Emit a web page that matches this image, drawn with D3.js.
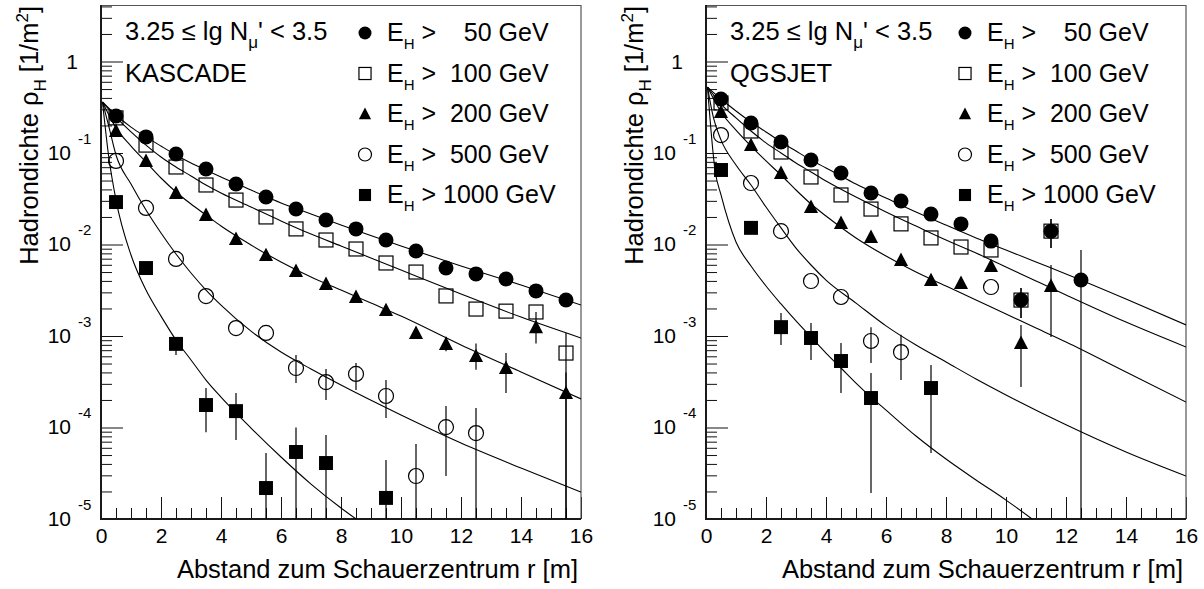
<!DOCTYPE html>
<html><head><meta charset="utf-8">
<script src="https://cdn.jsdelivr.net/npm/d3@7"></script>
<style>
body{margin:0;background:#fff;}
svg{display:block;font-family:"Liberation Sans",Arial,Helvetica,sans-serif;}
</style></head><body>
<svg id="chart" width="1204" height="589"></svg>
<script>
// ---------------- data ----------------
const rBins16 = [0.5,1.5,2.5,3.5,4.5,5.5,6.5,7.5,8.5,9.5,10.5,11.5,12.5,13.5,14.5,15.5];
const energyLabels = ["50","100","200","500","1000"];
const xTickValues = [0,2,4,6,8,10,12,14,16];
const yDecadeExp = [-5,-4,-3,-2,-1,0];
const modelNames = ["KASCADE","QGSJET"];
const headerText = "3.25 \u2264 lg N";

// KASCADE data points
const kasR50 = rBins16;
const kasE50 = [0.254,0.150,0.0975,0.0668,0.0458,0.0330,0.0244,0.0185,0.0148,0.0112,0.00849,0.00553,0.00477,0.00420,0.00311,0.00247];
const kasErr50 = [null,null,null,null,null,null,null,null,null,null,null,null,null,null,[0.0027,0.0036],[0.0021,0.0029]];
const kasR100 = rBins16;
const kasE100 = [0.242,0.122,0.0703,0.0447,0.0306,0.0200,0.0148,0.0112,0.00893,0.00628,0.00500,0.00274,0.00197,0.00187,0.00183,0.000651];
const kasErr100 = [null,null,null,null,null,null,null,null,null,null,null,null,null,null,null,[1e-6,0.00108]];
const kasR200 = rBins16;
const kasE200 = [0.174,0.0819,0.0366,0.0210,0.0115,0.00767,0.00513,0.00370,0.00267,0.00192,0.00108,0.00082,0.000604,0.000447,0.00125,0.000238];
const kasErr200 = [null,null,null,null,null,null,null,null,null,null,null,[0.00068,0.00098],[0.000428,0.00083],[0.000238,0.00065],[0.00083,0.00183],[1e-6,0.0004]];
const kasR500 = [0.5,1.5,2.5,3.5,4.5,5.5,6.5,7.5,8.5,9.5,10.5,11.5,12.5];
const kasE500 = [0.0819,0.0251,0.00695,0.00273,0.00122,0.00108,0.000447,0.000314,0.000385,0.000221,2.95e-5,1.01e-4,8.7e-5];
const kasErr500 = [null,null,null,null,null,null,[0.000306,0.00062],[0.0002,0.000435],[0.000257,0.000507],[0.000127,0.00033],[1e-6,6.6e-5],[2.95e-5,0.000172],[1e-6,0.000163]];
const kasR1000 = [0.5,1.5,2.5,3.5,4.5,5.5,6.5,7.5,9.5];
const kasE1000 = [0.0291,0.00553,0.00082,0.000176,0.000151,2.18e-5,5.4e-5,4.09e-5,1.70e-5];
const kasErr1000 = [null,null,[0.00062,0.00095],[8.9e-5,0.00027],[7.3e-5,0.000238],[1e-6,5.26e-5],[1e-6,1.0e-4],[1e-6,8.3e-5],[1e-6,4.4e-5]];

// KASCADE fit curves
const kasFitR50 = [0.05,0.5,1,1.5,2,2.5,3,3.5,4,5,6,7,8,10,12,14,16];
const kasFit50 = [0.361,0.260,0.192,0.150,0.119,0.0951,0.0777,0.0652,0.0547,0.0394,0.0284,0.0215,0.0163,0.00963,0.00582,0.00361,0.00218];
const kasFitR100 = [0.05,0.5,1,1.5,2,2.5,3,3.5,4,5,6,7,8,10,12,14,16];
const kasFit100 = [0.361,0.247,0.170,0.122,0.0904,0.0703,0.0561,0.0447,0.0365,0.0257,0.0181,0.0130,0.00963,0.00526,0.00288,0.00161,0.000951];
const kasFitR200 = [0.05,0.5,1,1.5,2,2.5,3,3.5,4,5,6,7,8,9,10,12,14,16];
const kasFit200 = [0.361,0.188,0.119,0.0797,0.0533,0.0375,0.0277,0.0210,0.0159,0.00988,0.00644,0.00441,0.00318,0.00229,0.00165,0.000797,0.000404,0.000205];
const kasFitR500 = [0.05,0.25,0.5,1,1.5,2,2.5,3,3.5,4,5,6,7,8,10,12,14,16];
const kasFit500 = [0.361,0.202,0.0951,0.0458,0.0238,0.01335,0.00787,0.00488,0.00318,0.00218,0.00113,0.000668,0.000436,0.000291,0.000137,6.77e-5,3.61e-5,1.97e-5];
const kasFitR1000 = [0.05,0.25,0.5,1,1.5,2,2.5,3,3.5,4,5,6,7,8,8.6];
const kasFit1000 = [0.361,0.0951,0.0306,0.00768,0.00318,0.00165,0.000904,0.000547,0.00033,0.000215,9.87e-5,4.76e-5,2.41e-5,1.32e-5,9.5e-6];

// QGSJET data points
const qgsR50 = [0.5,1.5,2.5,3.5,4.5,5.5,6.5,7.5,8.5,9.5,10.5,11.5,12.5];
const qgsE50 = [0.389,0.213,0.132,0.0839,0.0605,0.0365,0.0299,0.0215,0.0168,0.0109,0.00247,0.0140,0.00409];
const qgsErr50 = [null,null,null,null,null,null,null,null,null,null,[0.00157,0.00335],[0.00915,0.0190],[1e-6,0.00871]];
const qgsR100 = [0.5,1.5,2.5,3.5,4.5,5.5,6.5,7.5,8.5,9.5,10.5,11.5];
const qgsE100 = [0.352,0.174,0.1025,0.0547,0.0348,0.0244,0.0168,0.0118,0.00939,0.00871,0.00247,0.0140];
const qgsErr100 = [null,null,null,null,null,null,null,null,null,null,[0.00157,0.00335],[0.00915,0.0190]];
const qgsR200 = [0.5,1.5,2.5,3.5,4.5,5.5,6.5,7.5,8.5,9.5,10.5,11.5];
const qgsE200 = [0.281,0.122,0.0605,0.0257,0.0172,0.0121,0.00677,0.00409,0.00380,0.00582,0.000838,0.00352];
const qgsErr200 = [null,null,null,null,null,null,null,null,null,null,[0.000277,0.00132],[0.000975,0.00597]];
const qgsR500 = [0.5,1.5,2.5,3.5,4.5,5.5,6.5,9.5];
const qgsE500 = [0.157,0.0470,0.0140,0.00399,0.00267,0.000882,0.000668,0.00343];
const qgsErr500 = [null,null,null,null,null,[0.000507,0.00125],[0.00033,0.00103],null];
const qgsR1000 = [0.5,1.5,2.5,3.5,4.5,5.5,7.5];
const qgsE1000 = [0.0652,0.0152,0.00125,0.000951,0.000533,0.00021,0.00027];
const qgsErr1000 = [null,null,[0.000797,0.00178],[0.000547,0.00139],[0.000238,0.000838],[1.92e-5,0.000394],[5.26e-5,0.000482]];

// QGSJET fit curves
const qgsFitR50 = [0.05,0.5,1,1.5,2,2.5,3,3.5,4,4.5,5,6,7,8,9,10,11,12,14,16];
const qgsFit50 = [0.526,0.389,0.288,0.218,0.170,0.132,0.105,0.0839,0.0686,0.0561,0.0458,0.0322,0.0227,0.0163,0.0118,0.00871,0.00644,0.00477,0.00254,0.00132];
const qgsFitR100 = [0.05,0.5,1,1.5,2,2.5,3,3.5,4,5,6,7,8,9,10,11,12,14,16];
const qgsFit100 = [0.526,0.343,0.242,0.174,0.129,0.100,0.0777,0.0620,0.0494,0.0330,0.0227,0.0159,0.0112,0.00807,0.00568,0.00399,0.00281,0.00142,0.000758];
const qgsFitR200 = [0.05,0.5,1,1.5,2,2.5,3,3.5,4,5,6,7,8,9,10,11,12,14,16];
const qgsFit200 = [0.526,0.281,0.178,0.119,0.0819,0.0575,0.0394,0.0277,0.0205,0.0118,0.00748,0.00500,0.00352,0.00247,0.00174,0.00122,0.00086,0.000404,0.00019];
const qgsFitR500 = [0.05,0.25,0.5,1,1.5,2,2.5,3,3.5,4,5,6,7,8,9,10,12,14,16];
const qgsFit500 = [0.526,0.242,0.139,0.0739,0.0447,0.0257,0.0152,0.00915,0.00597,0.00409,0.00229,0.00129,0.000797,0.00052,0.000339,0.000227,0.000107,5.4e-5,2.95e-5];
const qgsFitR1000 = [0.05,0.3,0.5,1,1.5,2,2.5,3,3.5,4,4.5,5,5.5,6,7,8,9,10,11];
const qgsFit1000 = [0.526,0.0652,0.0348,0.01065,0.00582,0.00352,0.00224,0.00146,0.000975,0.000651,0.000447,0.000306,0.000215,0.000155,8.07e-5,4.52e-5,2.67e-5,1.61e-5,9.3e-6];

// ---------------- layout ----------------
const markerTypes = ["circle","osquare","triangle","ocircle","square"];
const panels = [
  {x0:101, name:modelNames[0],
   series:[[kasR50,kasE50,kasErr50],[kasR100,kasE100,kasErr100],[kasR200,kasE200,kasErr200],[kasR500,kasE500,kasErr500],[kasR1000,kasE1000,kasErr1000]],
   fits:[[kasFitR50,kasFit50],[kasFitR100,kasFit100],[kasFitR200,kasFit200],[kasFitR500,kasFit500],[kasFitR1000,kasFit1000]],
   legMarkerDx:264, legTextDx:286},
  {x0:706, name:modelNames[1],
   series:[[qgsR50,qgsE50,qgsErr50],[qgsR100,qgsE100,qgsErr100],[qgsR200,qgsE200,qgsErr200],[qgsR500,qgsE500,qgsErr500],[qgsR1000,qgsE1000,qgsErr1000]],
   fits:[[qgsFitR50,qgsFit50],[qgsFitR100,qgsFit100],[qgsFitR200,qgsFit200],[qgsFitR500,qgsFit500],[qgsFitR1000,qgsFit1000]],
   legMarkerDx:259, legTextDx:281}
];
const PW = 480, TOP = 5, BOT = 519;
const yTopValue = 4.145;
const FONT = "'Liberation Sans',Arial,Helvetica,sans-serif";

const svg = d3.select("#chart");
svg.append("rect").attr("width",1204).attr("height",589).attr("fill","#fff");
const defs = svg.append("defs");

function drawMarker(g, type, s){
  if(type==="circle"||type==="ocircle"){
    g.append("circle").attr("r", s/2)
      .attr("fill", type==="circle" ? "#000" : "none")
      .attr("stroke", type==="circle" ? "none" : "#000")
      .attr("stroke-width", 1.2);
  } else if(type==="square"||type==="osquare"){
    const q = s*0.93;
    g.append("rect").attr("x",-q/2).attr("y",-q/2).attr("width",q).attr("height",q)
      .attr("fill", type==="square" ? "#000" : "none")
      .attr("stroke", type==="square" ? "none" : "#000")
      .attr("stroke-width", 1.2);
  } else if(type==="triangle"){
    const h = s*0.47;
    g.append("path").attr("d", `M0,${-h*1.05}L${h},${h*0.85}L${-h},${h*0.85}Z`).attr("fill","#000");
  }
}

panels.forEach((p, pi) => {
  const x = d3.scaleLinear().domain([0,16]).range([p.x0, p.x0+PW]);
  const y = d3.scaleLog().domain([1e-5, yTopValue]).range([BOT, TOP]);
  const g = svg.append("g");

  const clipId = "clip"+pi;
  defs.append("clipPath").attr("id", clipId).append("rect")
    .attr("x", p.x0).attr("y", TOP).attr("width", PW).attr("height", BOT-TOP);

  // y axis ticks (inside)
  const majors = yDecadeExp.map(e => Math.pow(10, e));
  const minors = [];
  yDecadeExp.forEach(e => { for(let k=2;k<=9;k++){ const v=k*Math.pow(10,e); if(v<=yTopValue) minors.push(v);} });
  const yMajor = g.append("g").attr("transform",`translate(${p.x0},0)`)
    .call(d3.axisLeft(y).tickValues(majors).tickSize(-22).tickFormat(""));
  const yMinor = g.append("g").attr("transform",`translate(${p.x0},0)`)
    .call(d3.axisLeft(y).tickValues(minors).tickSize(-11).tickFormat(""));
  [yMajor,yMinor].forEach(a => { a.select(".domain").remove(); a.selectAll("line").attr("stroke","#111").attr("stroke-width",1); });

  // y tick labels with superscript exponents
  yMajor.selectAll(".tick").each(function(v){
    const t = d3.select(this);
    const e = Math.round(Math.log10(v));
    if(e===0){
      t.append("text").attr("x",-29).attr("y",7).attr("text-anchor","middle")
        .attr("font-size",21).attr("font-family",FONT).attr("fill","#000").text("1");
    } else {
      t.append("text").attr("x",-30).attr("y",6).attr("text-anchor","end")
        .attr("font-size",21).attr("font-family",FONT).attr("fill","#000").text("10");
      t.append("text").attr("x",-23).attr("y",-10).attr("text-anchor","start")
        .attr("font-size",15).attr("font-family",FONT).attr("fill","#000").text(String(e));
    }
  });

  // x axis ticks (inside)
  const xMinorVals = d3.range(0, 16.01, 0.5).filter(v => Math.abs(v/2 - Math.round(v/2))>1e-6);
  const xMajor = g.append("g").attr("transform",`translate(0,${BOT})`)
    .call(d3.axisBottom(x).tickValues(xTickValues).tickSize(-22).tickPadding(9).tickFormat(d3.format("d")));
  const xMinor = g.append("g").attr("transform",`translate(0,${BOT})`)
    .call(d3.axisBottom(x).tickValues(xMinorVals).tickSize(-11).tickFormat(""));
  [xMajor,xMinor].forEach(a => { a.select(".domain").remove(); a.selectAll("line").attr("stroke","#111").attr("stroke-width",1); });
  xMajor.selectAll("text").attr("font-size",21).attr("font-family",FONT).attr("fill","#000").attr("dy","0.71em");

  // frame
  g.append("line").attr("x1",p.x0).attr("x2",p.x0+PW).attr("y1",TOP+0.5).attr("y2",TOP+0.5).attr("stroke","#555").attr("stroke-width",1);
  g.append("line").attr("x1",p.x0+PW).attr("x2",p.x0+PW).attr("y1",TOP).attr("y2",BOT).attr("stroke","#555").attr("stroke-width",1.2);
  g.append("line").attr("x1",p.x0).attr("x2",p.x0).attr("y1",TOP).attr("y2",BOT+1).attr("stroke","#1a1a1a").attr("stroke-width",2);
  g.append("line").attr("x1",p.x0-1).attr("x2",p.x0+PW).attr("y1",BOT).attr("y2",BOT).attr("stroke","#1a1a1a").attr("stroke-width",2);

  const plot = g.append("g").attr("clip-path",`url(#${clipId})`);

  // fit curves
  const line = d3.line().x(d => x(d[0])).y(d => y(d[1])).curve(d3.curveMonotoneX);
  p.fits.forEach(f => {
    const pts = f[0].map((r,i) => [r, f[1][i]]);
    plot.append("path").attr("d", line(pts)).attr("fill","none").attr("stroke","#000").attr("stroke-width",1.1);
  });

  // error bars
  p.series.forEach(s => {
    s[0].forEach((r,i) => {
      const e = s[2][i];
      if(!e) return;
      plot.append("line").attr("x1",x(r)).attr("x2",x(r)).attr("y1",y(e[0])).attr("y2",y(e[1]))
        .attr("stroke","#000").attr("stroke-width",1.2);
    });
  });

  // markers (draw 1000 first, 50 last)
  for(let si=p.series.length-1; si>=0; si--){
    const s = p.series[si];
    s[0].forEach((r,i) => {
      const mg = plot.append("g").attr("transform",`translate(${x(r)},${y(s[1][i])})`);
      drawMarker(mg, markerTypes[si], 15);
    });
  }

  // header
  const hx = p.x0 + 24;
  const ht = g.append("text").attr("x",hx).attr("y",40).attr("font-size",25.5).attr("font-family",FONT).attr("fill","#000");
  ht.append("tspan").text(headerText);
  ht.append("tspan").attr("font-size",17).attr("dy",8).text("\u03bc");
  ht.append("tspan").attr("dy",-8).text("' < 3.5");
  g.append("text").attr("x",hx).attr("y",82).attr("font-size",25.5).attr("font-family",FONT).attr("fill","#000").text(p.name);

  // legend
  energyLabels.forEach((lab, i) => {
    const cy = 33 + 40.5*i;
    const mg = g.append("g").attr("transform",`translate(${p.x0+p.legMarkerDx},${cy})`);
    drawMarker(mg, markerTypes[i], 13);
    const pad = " ".repeat(1 + 2*Math.max(0, 4 - lab.length) - (lab.length < 4 ? 1 : 0));
    const t = g.append("text").attr("x",p.x0+p.legTextDx).attr("y",cy+8)
      .attr("font-size",25).attr("font-family",FONT).attr("fill","#000")
      .attr("xml:space","preserve").style("white-space","pre");
    t.append("tspan").text("E");
    t.append("tspan").attr("font-size",15).attr("dy",8).text("H");
    t.append("tspan").attr("dy",-8).text(" >" + pad + lab + " GeV");
  });

  // axis titles
  g.append("text").attr("x",p.x0+PW-3).attr("y",578).attr("text-anchor","end")
    .attr("font-size",25.5).attr("font-family",FONT).attr("fill","#000")
    .text("Abstand zum Schauerzentrum r [m]");
  const yt = g.append("text").attr("transform",`translate(${p.x0-63},6) rotate(-90)`).attr("text-anchor","end")
    .attr("font-size",25.5).attr("font-family",FONT).attr("fill","#000");
  yt.append("tspan").text("Hadrondichte \u03c1");
  yt.append("tspan").attr("font-size",17).attr("dy",8).text("H");
  yt.append("tspan").attr("dy",-8).text(" [1/m");
  yt.append("tspan").attr("font-size",17).attr("dy",-10).text("2");
  yt.append("tspan").attr("dy",10).text("]");
});
</script>
</body></html>
